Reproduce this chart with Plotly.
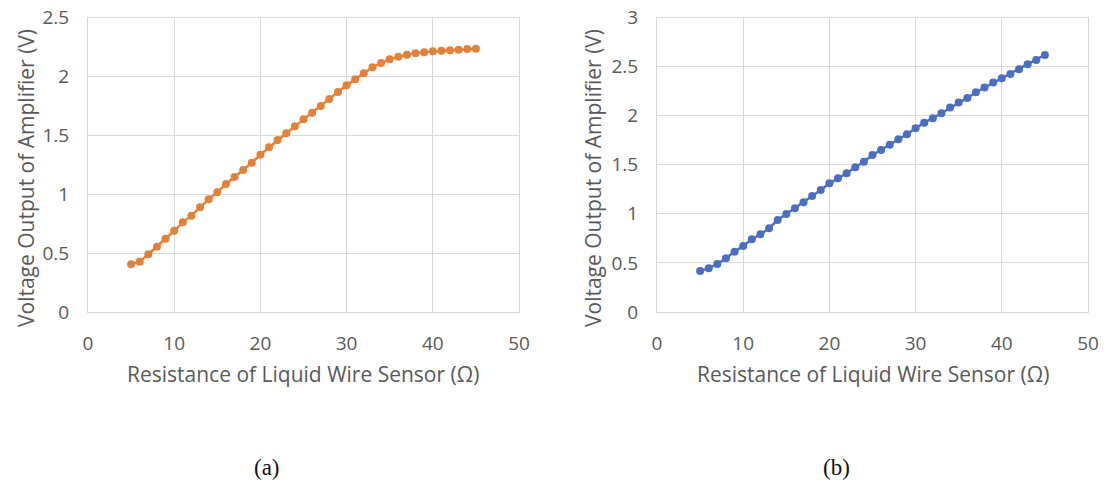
import plotly.graph_objects as go

resistance = list(range(5, 46))
voltage_a = [0.405, 0.427, 0.49, 0.554, 0.622, 0.69, 0.761, 0.818, 0.889, 0.957,
             1.016, 1.087, 1.146, 1.205, 1.268, 1.335, 1.398, 1.46, 1.517, 1.576,
             1.636, 1.692, 1.749, 1.808, 1.868, 1.924, 1.975, 2.026, 2.077, 2.114,
             2.145, 2.167, 2.184, 2.196, 2.204, 2.213, 2.218, 2.221, 2.227, 2.233, 2.235]
voltage_b = [0.418, 0.445, 0.489, 0.547, 0.615, 0.673, 0.741, 0.792, 0.853, 0.937,
             0.999, 1.057, 1.118, 1.182, 1.243, 1.311, 1.362, 1.413, 1.474, 1.53,
             1.600, 1.651, 1.705, 1.760, 1.811, 1.872, 1.929, 1.974, 2.025, 2.082,
             2.133, 2.181, 2.239, 2.286, 2.337, 2.381, 2.425, 2.473, 2.524, 2.568, 2.619]

x_ticks = [0, 10, 20, 30, 40, 50]
y_ticks_a = [0, 0.5, 1, 1.5, 2, 2.5]
y_ticks_b = [0, 0.5, 1, 1.5, 2, 2.5, 3]

x_title = "Resistance of Liquid Wire Sensor (Ω)"
y_title = "Voltage Output of Amplifier (V)"
captions = ["(a)", "(b)"]

W, H = 1104, 482
GRID = "#d9d9d9"
TXT = "#595959"
FONT = "Open Sans"

fig = go.Figure()
fig.add_trace(go.Scatter(x=resistance, y=voltage_a, mode="lines+markers",
                         line=dict(color="#E2823A", width=2.5),
                         marker=dict(color="#E2823A", size=8),
                         xaxis="x", yaxis="y", showlegend=False))
fig.add_trace(go.Scatter(x=resistance, y=voltage_b, mode="lines+markers",
                         line=dict(color="#4A6FC0", width=2.5),
                         marker=dict(color="#4A6FC0", size=8),
                         xaxis="x2", yaxis="y2", showlegend=False))

ybot = 1 - 312 / H
ytop = 1 - 17.5 / H
dom_a = [88 / W, 519 / W]
dom_b = [657 / W, 1088 / W]

def xaxis(domain, anchor):
    return dict(domain=domain, anchor=anchor, range=[0, 50], tickvals=x_ticks,
                automargin=False,
                showgrid=True, gridcolor=GRID, gridwidth=1, zeroline=False,
                showline=True, linecolor=GRID, mirror=True, ticks="",
                tickfont=dict(family=FONT, size=19, color=TXT),
                ticklabelstandoff=14)

def yaxis(rng, ticks, anchor):
    return dict(domain=[ybot, ytop], anchor=anchor, range=rng, tickvals=ticks,
                ticktext=[f"{t:g}" for t in ticks], automargin=False,
                showgrid=True, gridcolor=GRID, gridwidth=1, zeroline=False,
                showline=True, linecolor=GRID, mirror=True, ticks="",
                tickfont=dict(family=FONT, size=19, color=TXT),
                ticklabelstandoff=14)

fig.update_layout(
    width=W, height=H,
    margin=dict(l=0, r=0, t=0, b=0, autoexpand=False),
    paper_bgcolor="white", plot_bgcolor="white",
    xaxis=xaxis(dom_a, "y"),
    yaxis=yaxis([0, 2.5], y_ticks_a, "x"),
    xaxis2=xaxis(dom_b, "y2"),
    yaxis2=yaxis([0, 3], y_ticks_b, "x2"),
)

annos = []
for dom, cap, ylab_x in [(dom_a, captions[0], 26 / W), (dom_b, captions[1], 593 / W)]:
    cx = (dom[0] + dom[1]) / 2
    annos.append(dict(text=x_title, x=cx, y=1 - 374 / H, xref="paper", yref="paper",
                      showarrow=False, xanchor="center", yanchor="middle",
                      font=dict(family=FONT, size=21, color=TXT)))
    annos.append(dict(text=y_title, x=ylab_x, y=1 - 178 / H, xref="paper", yref="paper",
                      showarrow=False, xanchor="center", yanchor="middle", textangle=-90,
                      font=dict(family=FONT, size=21, color=TXT)))
    annos.append(dict(text=cap, x=cx - 36 / W, y=1 - 467 / H, xref="paper", yref="paper",
                      showarrow=False, xanchor="center", yanchor="middle",
                      font=dict(family="Liberation Serif", size=23, color="#111111")))
fig.update_layout(annotations=annos)

fig.write_html("out.html")
